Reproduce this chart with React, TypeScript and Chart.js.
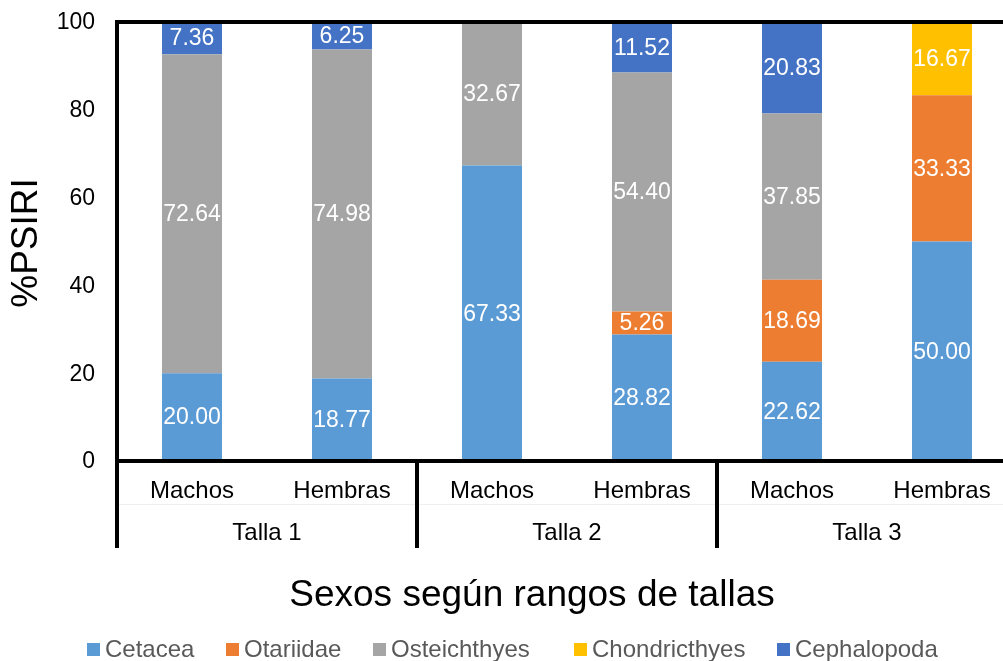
import React, { useEffect, useRef } from "react";
import Chart from "chart.js/auto";

const categories = ["Machos", "Hembras", "Machos", "Hembras", "Machos", "Hembras"];
const groups = ["Talla 1", "Talla 2", "Talla 3"];
const seriesNames = ["Cetacea", "Otariidae", "Osteichthyes", "Chondricthyes", "Cephalopoda"];
const seriesColors = ["#5B9BD5", "#ED7D31", "#A5A5A5", "#FFC000", "#4472C4"];
const cetacea = [20.0, 18.77, 67.33, 28.82, 22.62, 50.0];
const otariidae = [0, 0, 0, 5.26, 18.69, 33.33];
const osteichthyes = [72.64, 74.98, 32.67, 54.4, 37.85, 0];
const chondricthyes = [0, 0, 0, 0, 0, 16.67];
const cephalopoda = [7.36, 6.25, 0, 11.52, 20.83, 0];
const yTicks = [0, 20, 40, 60, 80, 100];
const xTitle = "Sexos según rangos de tallas";
const yTitle = "%PSIRI";

const FONT = '"Liberation Sans", Arial, sans-serif';
const legendX = [87, 226, 373, 574, 777];

export default function App() {
  const ref = useRef<HTMLCanvasElement | null>(null);

  useEffect(() => {
    if (!ref.current) return;
    const seriesData = [cetacea, otariidae, osteichthyes, chondricthyes, cephalopoda];

    const overlay = {
      id: "overlay",
      afterDatasetsDraw(chart: any) {
        const ctx = chart.ctx;
        ctx.save();
        ctx.fillStyle = "#FFFFFF";
        ctx.font = `23px ${FONT}`;
        ctx.textAlign = "center";
        ctx.textBaseline = "middle";
        chart.data.datasets.forEach((ds: any, i: number) => {
          const meta = chart.getDatasetMeta(i);
          meta.data.forEach((el: any, j: number) => {
            const v = ds.data[j];
            if (!v) return;
            ctx.fillText(v.toFixed(2), el.x, (el.y + el.base) / 2 + 1);
          });
        });
        ctx.restore();
      },
      afterDraw(chart: any) {
        const ctx = chart.ctx;
        const area = chart.chartArea;
        const xs = chart.scales.x;
        const ys = chart.scales.y;
        const W = chart.width;
        const lw = 4;
        const bottomExt = 548;
        ctx.save();
        // faint row divider
        ctx.strokeStyle = "#EFEFEF";
        ctx.lineWidth = 1;
        ctx.beginPath();
        ctx.moveTo(area.left, 504.5);
        ctx.lineTo(W, 504.5);
        ctx.stroke();

        ctx.strokeStyle = "#000";
        ctx.lineWidth = lw;
        ctx.lineCap = "butt";
        // top line
        ctx.beginPath();
        ctx.moveTo(area.left - lw / 2, area.top);
        ctx.lineTo(W, area.top);
        ctx.stroke();
        // bottom axis line
        ctx.beginPath();
        ctx.moveTo(area.left - lw / 2, area.bottom);
        ctx.lineTo(W, area.bottom);
        ctx.stroke();
        // left axis line
        ctx.beginPath();
        ctx.moveTo(area.left, area.top - lw / 2);
        ctx.lineTo(area.left, bottomExt);
        ctx.stroke();
        // group separators
        const step = xs.getPixelForValue(1) - xs.getPixelForValue(0);
        for (let g = 1; g <= groups.length; g++) {
          const x = xs.getPixelForValue(g * 2 - 1) + step / 2;
          ctx.beginPath();
          ctx.moveTo(x, area.bottom);
          ctx.lineTo(x, bottomExt);
          ctx.stroke();
        }

        // y tick labels
        ctx.fillStyle = "#000";
        ctx.font = `23px ${FONT}`;
        ctx.textAlign = "right";
        ctx.textBaseline = "middle";
        yTicks.forEach((t) => {
          ctx.fillText(String(t), 95, ys.getPixelForValue(t) + 1);
        });

        // category labels
        ctx.font = `24px ${FONT}`;
        ctx.textAlign = "center";
        categories.forEach((c, i) => {
          ctx.fillText(c, xs.getPixelForValue(i), 491);
        });
        groups.forEach((g, i) => {
          const x = (xs.getPixelForValue(i * 2) + xs.getPixelForValue(i * 2 + 1)) / 2;
          ctx.fillText(g, x, 533);
        });

        // x title
        ctx.font = `37px ${FONT}`;
        ctx.fillText(xTitle, 532, 596);

        // y title
        ctx.save();
        ctx.translate(27, 243);
        ctx.rotate(-Math.PI / 2);
        ctx.fillText(yTitle, 0, 0);
        ctx.restore();

        // legend
        ctx.font = `24px ${FONT}`;
        ctx.textAlign = "left";
        seriesNames.forEach((n, i) => {
          ctx.fillStyle = seriesColors[i];
          ctx.fillRect(legendX[i], 643, 13, 13);
          ctx.fillStyle = "#595959";
          ctx.fillText(n, legendX[i] + 18, 650);
        });
        ctx.restore();
      },
    };

    const chart = new Chart(ref.current, {
      type: "bar",
      data: {
        labels: categories,
        datasets: seriesNames.map((name, i) => ({
          label: name,
          data: seriesData[i],
          backgroundColor: seriesColors[i],
          borderWidth: 0,
          barPercentage: 0.4,
          categoryPercentage: 1,
        })),
      },
      options: {
        responsive: false,
        animation: false,
        layout: { padding: { left: 0, right: 23, top: 22, bottom: 200 } },
        plugins: {
          legend: { display: false },
          tooltip: { enabled: false },
        },
        scales: {
          x: {
            stacked: true,
            display: false,
          },
          y: {
            stacked: true,
            min: 0,
            max: 100,
            afterFit(scale: any) {
              scale.width = 117;
            },
            afterBuildTicks(scale: any) {
              scale.ticks = yTicks.map((v) => ({ value: v }));
            },
            grid: { display: false, drawTicks: false },
            border: { display: false },
            ticks: { display: false, padding: 0 },
          },
        },
      },
      plugins: [overlay],
    });
    return () => chart.destroy();
  }, []);

  return (
    <div
      style={{
        position: "absolute",
        left: 0,
        top: 0,
        width: 1003,
        height: 661,
        overflow: "hidden",
        background: "#fff",
      }}
    >
      <canvas ref={ref} width={1040} height={661} style={{ display: "block" }} />
    </div>
  );
}
